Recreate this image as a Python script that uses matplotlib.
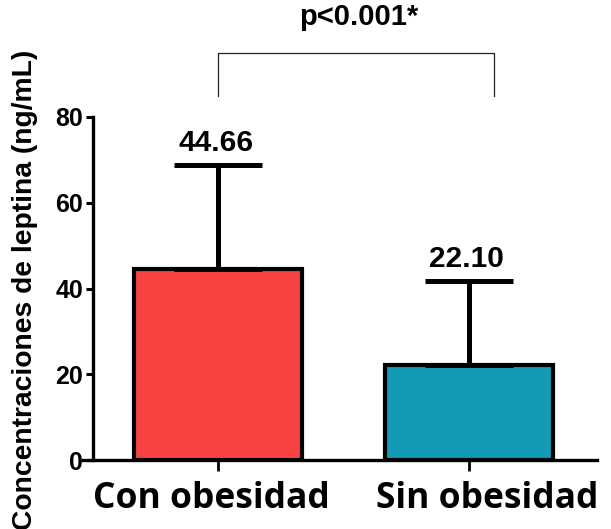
import matplotlib

matplotlib.use("Agg")
import matplotlib.pyplot as plt
from matplotlib.transforms import ScaledTranslation

groups = ["Con obesidad", "Sin obesidad"]
means = [44.66, 22.10]
sd_upper = [24.1, 19.6]
colors = ["#F94343", "#139AB4"]
y_ticks = [0, 20, 40, 60, 80]
p_label = "p<0.001*"

plt.rcParams["font.family"] = ["Liberation Sans", "DejaVu Sans"]

fig = plt.figure(figsize=(6.11, 5.29), dpi=100)
ax = fig.add_axes([83 / 611, 69 / 529, (597 - 83) / 611, (460 - 117) / 529])

x = list(range(len(groups)))
ax.bar(x, means, width=0.67, color=colors, edgecolor="black", linewidth=3, zorder=2)
ax.errorbar(x, means, yerr=[[0] * len(means), sd_upper], fmt="none",
            ecolor="black", elinewidth=3.6, capsize=32, capthick=3.6, zorder=3)

for xi, m, s in zip(x, means, sd_upper):
    ax.text(xi - 0.01, m + s + 2.0, f"{m:.2f}", ha="center", va="bottom",
            fontsize=21.5, fontweight="bold")

# significance bracket
bx0, bx1, by_low, by_high = 0.0, 1.10, 84.8, 94.9
ax.plot([bx0, bx0, bx1, bx1], [by_low, by_high, by_high, by_low],
        color="#222222", lw=0.9, clip_on=False)
ax.text((bx0 + bx1) / 2 + 0.01, 100.0, p_label, ha="center", va="bottom",
        fontsize=21, fontweight="bold")

ax.set_xlim(-0.54, 1.51)
ax.set_ylim(0, 80)
ax.spines["left"].set_position(("data", -0.5))
ax.spines["top"].set_visible(False)
ax.spines["right"].set_visible(False)
ax.spines["left"].set_linewidth(2.4)
ax.spines["bottom"].set_linewidth(2.4)

ax.set_yticks(y_ticks)
ax.set_yticklabels([str(t) for t in y_ticks], fontsize=18, fontweight="bold")
ax.tick_params(axis="y", length=5, width=2.2, pad=2)
ax.set_xticks(x)
ax.set_xticklabels(groups, fontsize=25.5, fontweight="bold", family=["Open Sans", "DejaVu Sans"])
ax.tick_params(axis="x", length=8, width=2, pad=7)
# labels sit a little off their ticks in the reference
for lbl, dx in zip(ax.get_xticklabels(), [-7, 18]):
    lbl.set_transform(lbl.get_transform() + ScaledTranslation(dx / 100, 0, fig.dpi_scale_trans))

ax.set_ylabel("Concentraciones de leptina (ng/mL)", fontsize=20.3, fontweight="bold")
ax.yaxis.set_label_coords(-0.088, 0.495)

fig.savefig("out.png", dpi=100)
plt.close(fig)
